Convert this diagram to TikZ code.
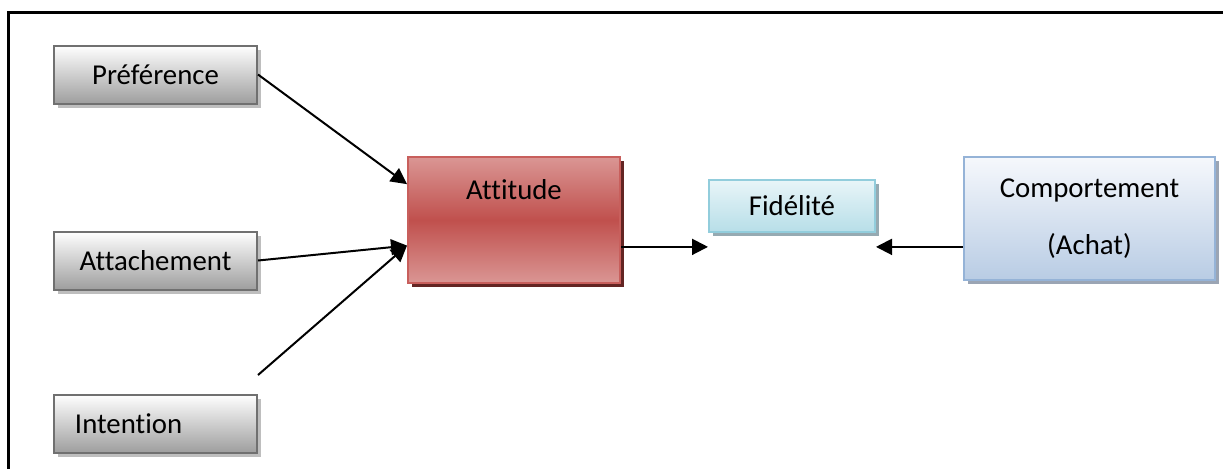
\documentclass[tikz,border=0pt]{standalone}
\usepackage{fontspec}
\setmainfont[Ligatures=NoCommon]{Carlito}
\usetikzlibrary{arrows.meta,positioning,shadows,calc}
\definecolor{greyedge}{RGB}{112,112,112}
\definecolor{greylow}{RGB}{158,158,158}
\definecolor{greyshade}{RGB}{190,190,190}
\definecolor{redlight}{RGB}{218,150,148}
\definecolor{redmid}{RGB}{192,80,77}
\definecolor{rededge}{RGB}{200,95,92}
\definecolor{redshade}{RGB}{99,37,35}
\definecolor{cyantop}{RGB}{232,245,248}
\definecolor{cyanlow}{RGB}{183,222,232}
\definecolor{cyanedge}{RGB}{146,205,220}
\definecolor{cyanshade}{RGB}{150,170,178}
\definecolor{bluetop}{RGB}{246,248,252}
\definecolor{bluelow}{RGB}{184,204,228}
\definecolor{blueedge}{RGB}{149,179,215}
\definecolor{blueshade}{RGB}{155,165,180}
\tikzset{
  basebox/.style={rectangle,line width=1pt,inner sep=0pt,align=center,
    font=\fontsize{14.4}{17}\selectfont},
  greybox/.style={basebox,draw=greyedge,top color=white,bottom color=greylow,
    minimum width=101.5pt,minimum height=29pt,
    drop shadow={shadow xshift=2pt,shadow yshift=-2pt,fill=greyshade,opacity=1}},
  redbox/.style={basebox,draw=rededge,top color=redlight,bottom color=redlight,middle color=redmid,
    minimum width=106pt,minimum height=63pt,
    drop shadow={shadow xshift=2pt,shadow yshift=-2pt,fill=redshade,opacity=1}},
  cyanbox/.style={basebox,draw=cyanedge,top color=cyantop,bottom color=cyanlow,
    minimum width=83pt,minimum height=26pt,
    drop shadow={shadow xshift=2pt,shadow yshift=-2pt,fill=cyanshade,opacity=1}},
  bluebox/.style={basebox,draw=blueedge,top color=bluetop,bottom color=bluelow,
    minimum width=125.5pt,minimum height=61.5pt,
    drop shadow={shadow xshift=2pt,shadow yshift=-2pt,fill=blueshade,opacity=1}},
  arr/.style={-{Triangle[length=8pt,width=8pt]},line width=1pt,black}
}

\begin{document}
\begin{tikzpicture}[x=0.5pt,y=-0.5pt]
  \useasboundingbox (0,0) rectangle (1223,468);
  \clip (0,0) rectangle (1223,468);

  %% outer frame
  \draw[line width=1.5pt] (8,490) |- (1240,12);

  %% left column
  \node[greybox] (pref) at (155.5,74.5) {Préférence};
  \node[greybox,below=63pt of pref] (attach) {Attachement};
  \node[greybox,below=51.5pt of attach,text width=80.5pt,align=left,
        inner xsep=10.5pt,text depth=0pt] (intent) {Intention};

  %% attitude, fidelity, behaviour
  \node[redbox] (att) at (514,220) {Attitude\\[14pt]\mbox{}};
  \node[cyanbox] (fid) at (792,206) {Fidélité};
  \node[bluebox] (comp) at (1089.5,218.5) {Comportement\\[11.5pt](Achat)};

  %% anchor points
  \coordinate (top) at ($(att.north west)!0.22!(att.south west)$);
  \coordinate (hub) at ($(att.north west)!0.7!(att.south west)$);
  \coordinate (loose) at (attach.east |- 0,375);
  \coordinate (attout) at ($(att.north east)!0.71!(att.south east)$);
  \coordinate (fidin) at (fid.west |- attout);
  \coordinate (fidout) at (fid.east |- attout);

  %% arrows
  \draw[arr] (pref.east) -- (top);
  \draw[arr] (attach.east) -- (hub);
  \draw[arr] (loose) -- (hub);
  \draw[arr] (attout) -- (fidin);
  \draw[arr] (comp.west |- attout) -- (fidout);

\end{tikzpicture}
\end{document}
